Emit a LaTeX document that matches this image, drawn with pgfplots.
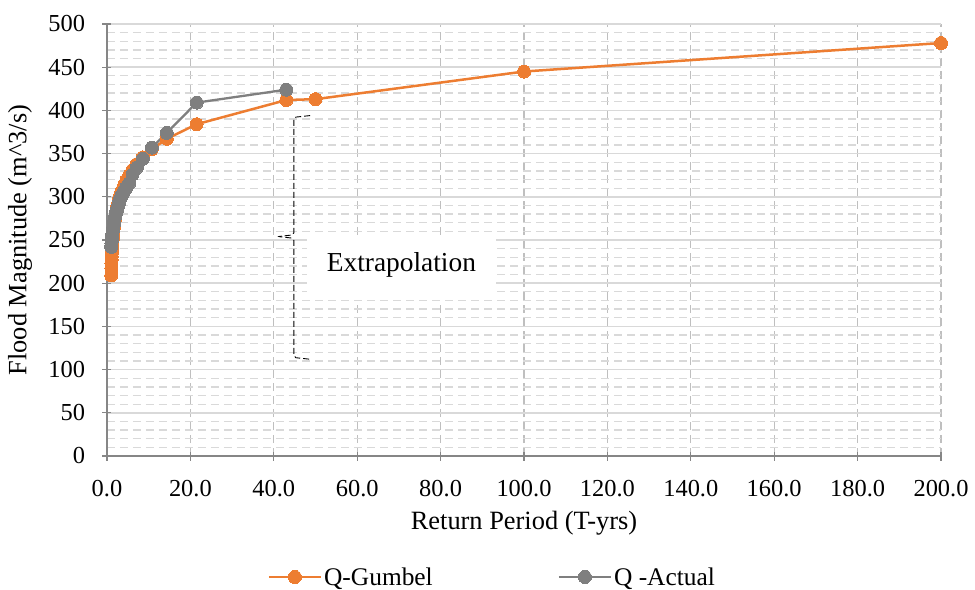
\documentclass[border=0pt]{standalone}
\usepackage{fontspec}
\setmainfont{Liberation Serif}
\usepackage{pgfplots}
\pgfplotsset{compat=1.18}
\usepackage{pgfplotstable}
\definecolor{qorange}{HTML}{ED7D31}
\definecolor{qgray}{HTML}{7F7F7F}
\definecolor{gridlight}{HTML}{D9D9D9}
\definecolor{gridmid}{HTML}{BFBFBF}
\definecolor{axgray}{HTML}{868686}

\pgfplotstableread{
T Q
200 478
100 445
50 413
43 412
21.5 384
14.333 367.1
10.75 355.1
8.6 345.6
7.167 337.8
6.143 331.1
5.375 325.2
4.778 320.0
4.3 315.2
3.909 310.8
3.583 306.7
3.308 302.9
3.071 299.3
2.867 295.9
2.688 292.6
2.529 289.5
2.389 286.5
2.263 283.6
2.15 280.8
2.048 278.0
1.955 275.3
1.870 272.7
1.792 270.1
1.72 267.5
1.654 265.0
1.593 262.5
1.536 259.9
1.483 257.4
1.433 254.8
1.387 252.2
1.344 249.6
1.303 246.9
1.265 244.1
1.229 241.2
1.194 238.1
1.162 234.9
1.132 231.3
1.103 227.4
1.075 222.8
1.049 217.2
1.024 209.0
}\gumbel

\pgfplotstableread{
T Q
43 424
21.5 409
14.333 374
10.75 357
8.6 344
7.167 334
6.143 326
5.375 316
4.778 312
4.3 308
3.909 305
3.583 302
3.308 299
3.071 296
2.867 293
2.688 290
2.529 288
2.389 285
2.263 283
2.15 281
2.048 279
1.955 277
1.870 275
1.792 273
1.72 271
1.654 269
1.593 267
1.536 265
1.483 264
1.433 262
1.387 260
1.344 259
1.303 257
1.265 256
1.229 254
1.194 253
1.162 251
1.132 249
1.103 248
1.075 246
1.049 244
1.024 242
}\actual

\begin{document}
\begin{tikzpicture}
\begin{axis}[
  name=ax,
  scale only axis,
  width=834bp, height=432bp,
  xmin=0, xmax=200, ymin=0, ymax=500,
  xtick={0,20,...,200},
  ytick={0,50,...,500},
  minor y tick num=4,
  minor tick length=0pt,
  major tick length=9bp,
  tick align=center,
  axis x line*=bottom,
  axis y line*=left,
  axis line style={axgray, line width=1.2bp},
  every tick/.style={axgray, line width=1.2bp},
  grid=both,
  major x grid style={gridmid, dash pattern=on 8bp off 5bp, line width=1.3bp},
  major y grid style={gridlight, line width=1.5bp},
  minor y grid style={gridlight, dash pattern=on 8bp off 5bp, line width=1.3bp},
  /pgf/number format/assume math mode=true,
  xticklabel style={/pgf/number format/.cd, fixed, fixed zerofill, precision=1, /tikz/.cd, yshift=-16bp},
  yticklabel style={/pgf/number format/.cd, fixed, precision=0, /tikz/.cd, xshift=-14bp},
  tick label style={font=\fontsize{24.5}{28}\selectfont},
  label style={font=\fontsize{26.5}{30}\selectfont},
  xlabel={Return Period (T-yrs)},
  ylabel={Flood Magnitude (m\^{}3/s)},
  xlabel style={at={(axis description cs:0.5,-0.155)}, anchor=center},
  ylabel style={at={(axis description cs:-0.1043,0.5)}, anchor=center},
  legend columns=2,
  legend style={draw=none, fill=none, at={(0.462,-0.280)}, anchor=center,
    font=\fontsize{25.5}{30}\selectfont,
    /tikz/every even column/.append style={column sep=123bp}},
  legend image code/.code={
    \draw[mark repeat=2, mark phase=2] plot coordinates {(0bp,0bp) (26bp,0bp) (52bp,0bp)};
  },
  clip=false,
]
% extrapolation annotation
\fill[white] (axis cs:47.9,180.6) rectangle (axis cs:93.4,254);
\node[font=\fontsize{27.5}{32}\selectfont] at (axis cs:70.6,221) {Extrapolation};
\draw[black, line width=0.9bp, dash pattern=on 6bp off 3bp, rounded corners=2bp]
  (axis cs:48.7,394) -- (axis cs:44.8,392) -- (axis cs:44.8,256) -- (axis cs:41,254)
  -- (axis cs:44.8,252) -- (axis cs:44.8,114) -- (axis cs:48.7,112);
\addplot[color=qorange, line width=2.5bp, mark=*, mark size=6.5bp,
  mark options={fill=qorange, draw=qorange, line width=0bp}] table[x=T,y=Q] {\gumbel};
\addlegendentry{Q-Gumbel}
\addplot[color=qgray, line width=2.3bp, mark=*, mark size=6.5bp,
  mark options={fill=qgray, draw=qgray, line width=0bp}] table[x=T,y=Q] {\actual};
\addlegendentry{Q -Actual}
\end{axis}
\pgfresetboundingbox
\path[use as bounding box] ([xshift=-107bp,yshift=-134bp]ax.south west) rectangle ([xshift=34bp,yshift=24bp]ax.north east);
\end{tikzpicture}
\end{document}
